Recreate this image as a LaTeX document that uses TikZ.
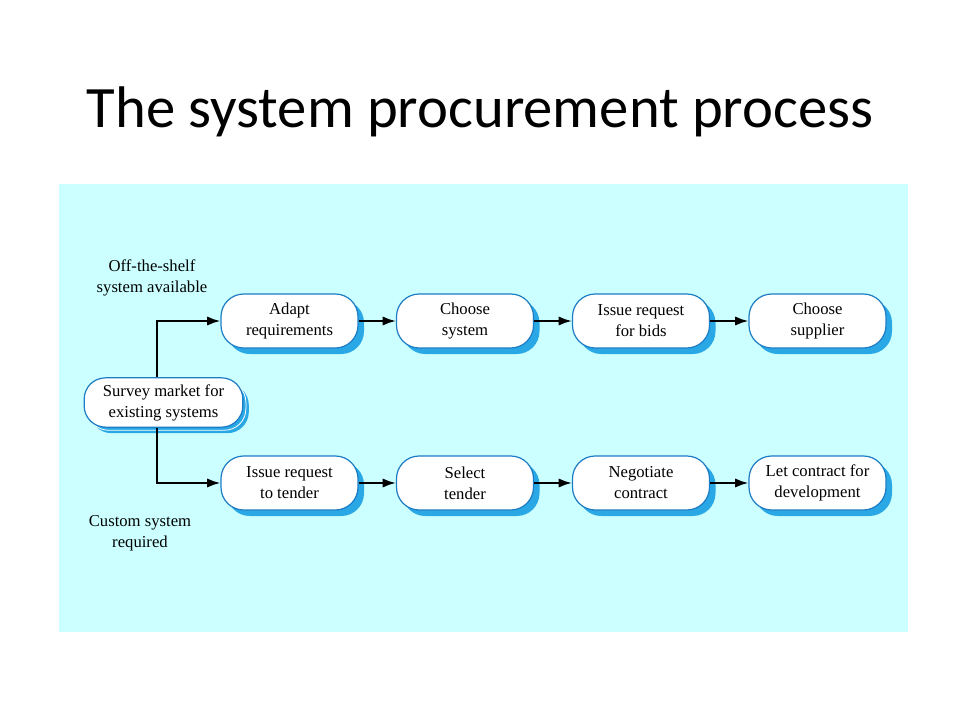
\documentclass[tikz,border=0pt]{standalone}
\usepackage{fontspec}
\setmainfont{Liberation Serif}
\newfontfamily\titlefont{Carlito}
\usetikzlibrary{arrows.meta,shadows}
\definecolor{bgcyan}{HTML}{CCFFFF}
\definecolor{shblue}{HTML}{2AA8E6}
\definecolor{bdblue}{HTML}{1C7CC4}
\tikzset{
  procbox/.style={draw=bdblue, line width=0.9pt, fill=white, rounded corners=17pt,
    minimum width=102.75pt, minimum height=40.5pt, inner sep=0pt, align=center,
    font=\fontsize{12.5}{15.75}\selectfont,
    copy shadow={shadow xshift=4.5pt, shadow yshift=-4.5pt, fill=shblue, draw=none}},
  surveybox/.style={draw=bdblue, line width=0.9pt, fill=white, rounded corners=16pt,
    minimum width=119pt, minimum height=37pt, inner sep=0pt, align=center,
    font=\fontsize{12.5}{15.75}\selectfont,
    copy shadow={shadow xshift=4.5pt, shadow yshift=-4.5pt, fill=shblue, draw=none},
    copy shadow={shadow xshift=2.3pt, shadow yshift=-2.3pt, fill=shblue, draw=white, line width=0.6pt}},
  lbl/.style={align=center, font=\fontsize{12.5}{15.75}\selectfont, inner sep=0pt},
  conn/.style={line width=1.5pt, -{Latex[length=10pt, width=7pt]}},
}
\begin{document}
\begin{tikzpicture}[x=0.75pt,y=-0.75pt]
\useasboundingbox (0,0) rectangle (960,720);
\fill[white] (0,0) rectangle (960,720);
\fill[bgcyan] (59,184) rectangle (908,632);
\node[font=\titlefont\fontsize{44}{50}\selectfont, anchor=base] (title) at (480,128) {The system procurement process};

\node[surveybox] (survey) at (163.5,402.5) {Survey market for\\existing systems};

\node[procbox] (a1) at (289.5,321) {Adapt\\requirements};
\node[procbox] (a2) at (465,321) {Choose\\system};
\node[procbox] (a3) at (641,321) {Issue request\\for bids};
\node[procbox] (a4) at (817.5,321) {Choose\\supplier};

\node[procbox] (b1) at (289.5,483) {Issue request\\to tender};
\node[procbox] (b2) at (465,483) {Select\\tender};
\node[procbox] (b3) at (641,483) {Negotiate\\contract};
\node[procbox] (b4) at (817.5,483) {Let contract for\\development};

\node[lbl] (offlbl) at (152,278) {Off-the-shelf\\system available};
\node[lbl] (custlbl) at (140,533) {Custom system\\required};

\coordinate (su) at (157,402.5);
\draw[conn] (survey.north -| su) |- (a1.west);
\draw[conn] (survey.south -| su) |- (b1.west);
\draw[conn] (a1) -- (a2);
\draw[conn] (a2) -- (a3);
\draw[conn] (a3) -- (a4);
\draw[conn] (b1) -- (b2);
\draw[conn] (b2) -- (b3);
\draw[conn] (b3) -- (b4);
\end{tikzpicture}
\end{document}
